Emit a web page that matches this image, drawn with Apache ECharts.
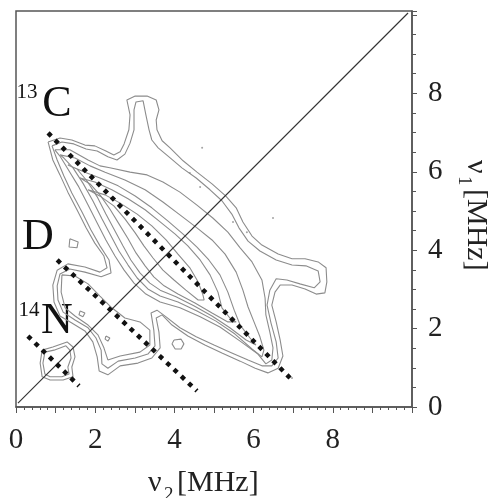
<!DOCTYPE html>
<html>
<head>
<meta charset="utf-8">
<script src="https://cdn.jsdelivr.net/npm/echarts@6/dist/echarts.min.js"></script>
<style>
  html, body { margin: 0; padding: 0; background: #fff; }
  #chart { width: 497px; height: 498px; }
</style>
</head>
<body>
<div id="chart"></div>
<script>
// tick labels shown on the two axes (MHz)
const xTickLabels = [0, 2, 4, 6, 8]
const yTickLabels = [0, 2, 4, 6, 8]

// contour lines, points are [v2, v1] in MHz
// outer level, with the upper lobe, the right lobe and the D lobe
const contour1 = [[0.81,6.76],[1.11,6.86],[1.41,6.81],[1.74,6.68],[1.99,6.66],[2.27,6.53],[2.47,6.43],[2.63,6.51],[2.73,6.71],[2.85,7.07],[2.88,7.45],[2.80,7.83],[3.01,7.93],[3.31,7.93],[3.54,7.83],[3.61,7.58],[3.54,7.32],[3.56,7.07],[3.69,6.79],[3.89,6.61],[4.22,6.28],[4.57,5.99],[4.95,5.69],[5.30,5.38],[5.56,5.08],[5.73,4.72],[5.96,4.36],[6.21,4.13],[6.62,3.90],[6.97,3.78],[7.30,3.78],[7.63,3.70],[7.83,3.55],[7.85,3.19],[7.80,2.91],[7.58,2.88],[7.30,3.01],[6.97,3.11],[6.67,3.11],[6.54,2.93],[6.46,2.60],[6.57,2.17],[6.67,1.71],[6.74,1.30],[6.62,0.99],[6.36,0.87],[6.04,0.99],[5.66,1.17],[5.20,1.38],[4.77,1.58],[4.34,1.81],[3.94,2.09],[3.69,2.35],[3.54,2.27],[3.61,1.91],[3.64,1.51],[3.43,1.25],[3.08,1.12],[2.63,1.05],[2.32,0.82],[2.10,0.92],[2.05,1.28],[1.94,1.66],[1.74,1.94],[1.41,2.14],[1.11,2.32],[0.96,2.68],[0.93,3.11],[1.04,3.49],[1.31,3.65],[1.74,3.57],[2.12,3.44],[2.30,3.55],[2.22,3.85],[1.99,4.18],[1.77,4.57],[1.54,5.03],[1.31,5.48],[1.11,5.92],[0.93,6.30],[0.81,6.76]]
const contour2 = [[0.91,6.66],[1.16,6.76],[1.46,6.71],[1.77,6.58],[2.05,6.53],[2.32,6.38],[2.55,6.30],[2.75,6.45],[2.88,6.73],[2.98,7.07],[2.98,7.58],[3.03,7.78],[3.21,7.81],[3.28,7.45],[3.36,7.07],[3.43,6.81],[3.59,6.61],[3.84,6.40],[4.19,6.10],[4.55,5.84],[4.90,5.54],[5.20,5.26],[5.45,4.92],[5.63,4.57],[5.86,4.23],[6.16,3.98],[6.57,3.75],[6.97,3.62],[7.32,3.60],[7.63,3.47],[7.68,3.19],[7.53,3.04],[7.17,3.14],[6.84,3.24],[6.57,3.27],[6.41,2.98],[6.34,2.60],[6.44,2.14],[6.57,1.66],[6.62,1.25],[6.46,1.05],[6.21,1.05],[5.86,1.20],[5.45,1.38],[5.00,1.58],[4.55,1.79],[4.14,2.02],[3.79,2.30],[3.56,2.47],[3.41,2.40],[3.48,1.96],[3.51,1.56],[3.33,1.35],[3.01,1.25],[2.58,1.17],[2.32,0.99],[2.17,1.10],[2.15,1.45],[2.02,1.76],[1.82,2.02],[1.49,2.22],[1.19,2.42],[1.06,2.73],[1.04,3.09],[1.11,3.39],[1.36,3.52],[1.74,3.44],[2.15,3.32],[2.40,3.42],[2.35,3.75],[2.12,4.11],[1.89,4.52],[1.67,4.97],[1.41,5.46],[1.21,5.89],[1.04,6.30],[0.91,6.66]]
// inner levels along the 13C ridge
const contour3 = [[0.98,6.56],[1.36,6.56],[1.82,6.30],[2.12,6.15],[2.37,6.10],[2.88,5.99],[3.31,5.92],[3.71,5.74],[4.14,5.48],[4.57,5.15],[4.97,4.82],[5.35,4.46],[5.66,4.06],[5.96,3.70],[6.21,3.24],[6.29,2.78],[6.31,2.35],[6.41,1.91],[6.49,1.51],[6.46,1.20],[6.31,1.10],[6.11,1.35],[5.66,1.68],[5.15,2.04],[4.65,2.30],[4.14,2.53],[3.64,2.68],[3.28,2.88],[2.98,3.16],[2.73,3.49],[2.50,3.85],[2.27,4.26],[2.05,4.69],[1.82,5.15],[1.57,5.64],[1.31,6.07],[1.11,6.40],[0.98,6.56]]
const contour4 = [[1.11,6.43],[1.49,6.35],[1.87,6.15],[2.25,5.99],[2.75,5.79],[3.26,5.54],[3.71,5.23],[4.14,4.90],[4.57,4.57],[4.95,4.26],[5.28,3.90],[5.56,3.44],[5.73,2.98],[5.86,2.55],[6.01,2.17],[6.16,1.79],[6.26,1.45],[6.21,1.28],[5.96,1.48],[5.53,1.86],[5.05,2.19],[4.57,2.45],[4.09,2.68],[3.64,2.83],[3.33,3.01],[3.06,3.29],[2.83,3.62],[2.60,3.98],[2.40,4.36],[2.17,4.80],[1.94,5.26],[1.69,5.71],[1.44,6.10],[1.21,6.35],[1.11,6.43]]
const contour5 = [[1.31,6.17],[1.74,5.99],[2.12,5.84],[2.58,5.64],[3.01,5.38],[3.43,5.08],[3.84,4.74],[4.22,4.41],[4.57,4.08],[4.87,3.75],[5.15,3.37],[5.35,2.93],[5.51,2.47],[5.66,2.09],[5.91,1.76],[6.06,1.58],[5.81,1.71],[5.40,2.02],[4.95,2.32],[4.49,2.58],[4.04,2.81],[3.64,2.98],[3.38,3.16],[3.13,3.42],[2.90,3.75],[2.70,4.11],[2.50,4.49],[2.27,4.92],[2.05,5.36],[1.79,5.77],[1.54,6.07],[1.31,6.17]]
const contour6 = [[1.62,5.84],[1.99,5.74],[2.42,5.54],[2.83,5.31],[3.26,5.03],[3.64,4.72],[4.02,4.41],[4.34,4.11],[4.65,3.75],[4.90,3.37],[5.10,2.93],[5.20,2.53],[5.40,2.27],[5.56,2.17],[5.35,2.17],[4.95,2.40],[4.52,2.65],[4.09,2.88],[3.74,3.09],[3.48,3.32],[3.26,3.60],[3.03,3.93],[2.83,4.29],[2.60,4.67],[2.37,5.05],[2.12,5.41],[1.87,5.69],[1.62,5.84]]
const contour7 = [[1.82,5.54],[2.25,5.41],[2.63,5.20],[3.06,4.92],[3.43,4.62],[3.79,4.26],[4.09,3.90],[4.39,3.55],[4.60,3.19],[4.72,2.86],[4.75,2.73],[4.60,2.73],[4.29,2.98],[3.99,3.24],[3.71,3.49],[3.46,3.80],[3.23,4.11],[3.01,4.44],[2.75,4.80],[2.47,5.13],[2.15,5.36],[1.82,5.54]]
// inner level of the D lobe
const contourD = [[1.16,3.37],[1.49,3.34],[1.82,3.14],[2.12,2.83],[2.42,2.53],[2.75,2.27],[3.13,2.17],[3.38,1.96],[3.38,1.58],[3.13,1.40],[2.63,1.30],[2.32,1.20],[2.22,1.51],[2.07,1.84],[1.82,2.09],[1.49,2.32],[1.24,2.53],[1.14,2.93],[1.16,3.37]]
// 14N blob
const contourN1 = [[0.66,1.45],[0.93,1.53],[1.29,1.66],[1.44,1.53],[1.49,1.28],[1.41,1.02],[1.44,0.77],[1.19,0.69],[0.86,0.69],[0.66,0.77],[0.61,1.12],[0.66,1.45]]
const contourN2 = [[0.73,1.40],[0.96,1.45],[1.26,1.56],[1.36,1.45],[1.39,1.25],[1.31,1.02],[1.34,0.84],[1.16,0.77],[0.86,0.77],[0.73,0.84],[0.68,1.12],[0.73,1.40]]
// small isolated rings
const island1 = [[1.36,4.29],[1.57,4.21],[1.54,4.06],[1.34,4.08],[1.36,4.29]]
const island2 = [[1.62,2.45],[1.74,2.40],[1.69,2.30],[1.59,2.35],[1.62,2.45]]
const island3 = [[2.27,1.81],[2.37,1.76],[2.32,1.68],[2.25,1.73],[2.27,1.81]]
const island4 = [[3.99,1.71],[4.17,1.73],[4.24,1.61],[4.17,1.48],[4.02,1.48],[3.94,1.61],[3.99,1.71]]
const specks = [[4.70,6.61],[4.39,5.97],[4.65,5.61],[6.49,4.82],[5.48,4.72],[5.83,4.46],[6.97,0.74]]

// diagonal and the dotted ridge guides
const diagonal = [[0.05,0.1],[9.9,10.05]]
const lineC13 = [[0.81,6.99],[6.92,0.74]]
const lineD = [[1.04,3.75],[4.57,0.41]]
const lineN14 = [[0.30,1.81],[1.59,0.54]]

const serif = '"Liberation Serif", "Times New Roman", serif'
const chart = echarts.init(document.getElementById('chart'))

const contours = [contour1, contour2, contour3, contour4, contour5, contour6, contour7,
  contourD, contourN1, contourN2, island1, island2, island3, island4]

const series = contours.map(d => ({
  type: 'line',
  data: d,
  showSymbol: false,
  silent: true,
  lineStyle: { color: '#8c8c8c', width: 1.1 }
}))

series.push({
  type: 'scatter',
  data: specks,
  symbolSize: 2,
  silent: true,
  itemStyle: { color: '#8c8c8c' }
})
series.push({
  type: 'line',
  data: diagonal,
  showSymbol: false,
  silent: true,
  lineStyle: { color: '#333', width: 1.2 }
})
;[lineC13, lineD, lineN14].forEach(d => {
  series.push({
    type: 'line',
    data: d,
    showSymbol: false,
    silent: true,
    z: 5,
    lineStyle: { color: '#111', width: 4.5, type: [4.5, 5.5], cap: 'butt' }
  })
})

// axis titles with a subscript, laid out as separate texts
function axisTitle(sub) {
  const big = '30px ' + serif
  const small = '19px ' + serif
  return [
    { type: 'text', x: 0, y: 0, style: { text: 'ν', font: big, fill: '#222', textAlign: 'left', textVerticalAlign: 'middle' } },
    { type: 'text', x: 16, y: 12, style: { text: sub, font: small, fill: '#222', textAlign: 'left', textVerticalAlign: 'middle' } },
    { type: 'text', x: 29, y: 0, style: { text: '[MHz]', font: big, fill: '#222', textAlign: 'left', textVerticalAlign: 'middle' } }
  ]
}

const label = (text, x, y, size) => ({
  type: 'text', x: x, y: y,
  style: { text: text, font: size + 'px ' + serif, fill: '#111', textAlign: 'center', textVerticalAlign: 'middle' }
})

const option = {
  animation: false,
  backgroundColor: '#fff',
  grid: {
    left: 16, top: 11, width: 396, height: 396,
    show: true, borderColor: '#555', borderWidth: 1.5
  },
  xAxis: {
    type: 'value', min: 0, max: 10, interval: 1,
    axisLine: { show: true, onZero: false, lineStyle: { color: '#555', width: 1.5 } },
    axisTick: { show: true, length: 6, lineStyle: { color: '#555' } },
    minorTick: { show: true, splitNumber: 5, length: 3, lineStyle: { color: '#555' } },
    splitLine: { show: false },
    axisLabel: {
      formatter: v => (xTickLabels.includes(v) ? String(v) : ''),
      fontFamily: serif, fontSize: 29, color: '#222', margin: 19
    }
  },
  yAxis: {
    type: 'value', min: 0, max: 10.1, interval: 2, position: 'right',
    axisLine: { show: true, onZero: false, lineStyle: { color: '#555', width: 1.5 } },
    axisTick: { show: true, length: 5, lineStyle: { color: '#555' } },
    minorTick: { show: true, splitNumber: 4, length: 4, lineStyle: { color: '#555' } },
    splitLine: { show: false },
    axisLabel: {
      formatter: v => (yTickLabels.includes(v) ? String(v) : ''),
      fontFamily: serif, fontSize: 29, color: '#222', margin: 16
    }
  },
  graphic: [
    label('13', 27, 92, 21),
    label('C', 57, 104, 44),
    label('D', 38, 237, 44),
    label('14', 29, 310, 21),
    label('N', 57, 321, 44),
    { type: 'group', x: 148, y: 483, children: axisTitle('2') },
    { type: 'group', x: 476, y: 160, rotation: -Math.PI / 2, children: axisTitle('1') }
  ],
  series: series
}

chart.setOption(option)
</script>
</body>
</html>
